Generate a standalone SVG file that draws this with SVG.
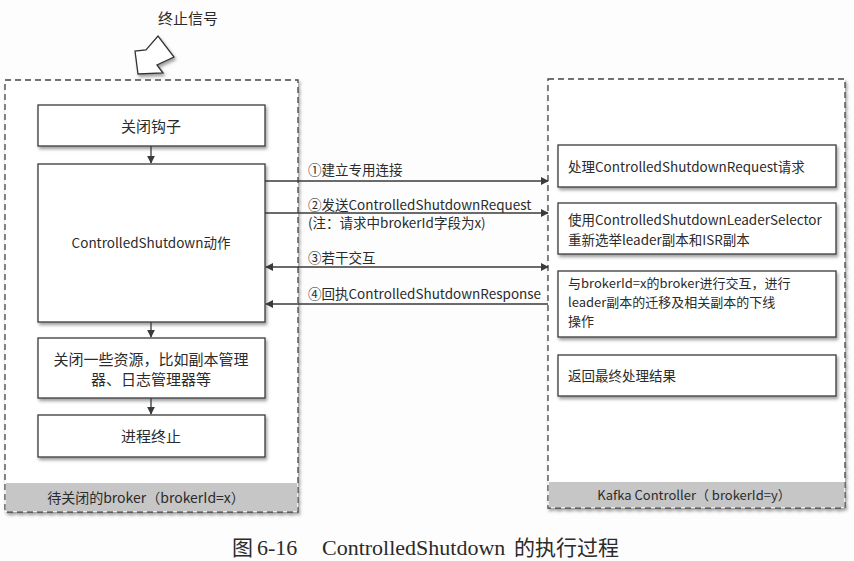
<svg xmlns="http://www.w3.org/2000/svg" width="854" height="561" viewBox="0 0 854 561">
  <defs>
    <style>
      .t { font-family: "Noto Sans CJK SC", "Noto Sans", sans-serif; fill: #2b2b2b; }
      .box { fill: #ffffff; stroke: #3a3a3a; stroke-width: 1.3; filter: url(#shadow); }
      .frame { fill: #ffffff; stroke: #444; stroke-width: 1.3; stroke-dasharray: 6 4; filter: url(#shadow); }
      .band { fill: #c6c6c6; }
      .link { stroke: #3a3a3a; stroke-width: 1.3; fill: none; }
      .cap { font-family: "Liberation Serif", "Noto Sans CJK SC", serif; fill: #2b2b2b; }
    </style>
    <filter id="shadow" x="-10%" y="-10%" width="125%" height="130%">
      <feDropShadow dx="1.5" dy="2.5" stdDeviation="1.5" flood-color="#777" flood-opacity="0.7"/>
    </filter>
    <marker id="arr" viewBox="0 0 10 10" refX="9" refY="5" markerWidth="8" markerHeight="8" markerUnits="userSpaceOnUse" orient="auto-start-reverse">
      <path d="M0,0 L10,5 L0,10 z" fill="#3a3a3a"/>
    </marker>
  </defs>

  <rect width="854" height="561" fill="#fdfdfd"/>

  <!-- shutdown signal -->
  <g id="signal">
    <text class="t" x="188" y="24" font-size="15" text-anchor="middle">终止信号</text>
    <path d="M135,51 L138,74 L163,73 L157,65 L174,57 L158,36 L146,50 Z" fill="#ffffff" stroke="#333" stroke-width="1.3" stroke-linejoin="miter" filter="url(#shadow)"/>
  </g>

  <!-- broker being shut down -->
  <g id="broker-x">
    <rect class="frame" x="5" y="80" width="293" height="432"/>
    <rect class="band" x="5.7" y="483" width="291.6" height="28.3"/>
    <text class="t" x="146" y="503" font-size="14" text-anchor="middle">待关闭的broker（brokerId=x）</text>
  </g>

  <!-- Kafka controller -->
  <g id="controller">
    <rect class="frame" x="548" y="79" width="297" height="429"/>
    <rect class="band" x="548.7" y="482" width="295.6" height="25.3"/>
    <text class="t" x="694" y="500" font-size="13" text-anchor="middle">Kafka Controller（ brokerId=y）</text>
  </g>

  <g id="hook">
    <rect class="box" x="38" y="105" width="227" height="41"/>
    <text class="t" x="151" y="132" font-size="15" text-anchor="middle">关闭钩子</text>
  </g>

  <g id="controlled-shutdown">
    <rect class="box" x="38" y="164" width="227" height="158"/>
    <text class="t" x="151" y="248" font-size="13.5" text-anchor="middle">ControlledShutdown动作</text>
  </g>

  <g id="close-resources">
    <rect class="box" x="38" y="338" width="227" height="60"/>
    <text class="t" x="151" y="365" font-size="15" text-anchor="middle">关闭一些资源，比如副本管理</text>
    <text class="t" x="151" y="385" font-size="15" text-anchor="middle">器、日志管理器等</text>
  </g>

  <g id="terminate">
    <rect class="box" x="38" y="415" width="227" height="42"/>
    <text class="t" x="151" y="442" font-size="15" text-anchor="middle">进程终止</text>
  </g>

  <g id="handle-request">
    <rect class="box" x="558" y="145" width="278" height="42"/>
    <text class="t" x="568" y="172" font-size="13.5">处理ControlledShutdownRequest请求</text>
  </g>

  <g id="reelect">
    <rect class="box" x="558" y="203" width="278" height="51"/>
    <text class="t" x="568" y="225" font-size="13.5">使用ControlledShutdownLeaderSelector</text>
    <text class="t" x="568" y="245" font-size="13.5">重新选举leader副本和ISR副本</text>
  </g>

  <g id="interact">
    <rect class="box" x="558" y="271" width="278" height="66"/>
    <text class="t" x="568" y="288" font-size="13">与brokerId=x的broker进行交互，进行</text>
    <text class="t" x="568" y="307" font-size="13">leader副本的迁移及相关副本的下线</text>
    <text class="t" x="568" y="326" font-size="13">操作</text>
  </g>

  <g id="return-result">
    <rect class="box" x="558" y="355" width="278" height="41"/>
    <text class="t" x="568" y="381" font-size="13.5">返回最终处理结果</text>
  </g>

  <!-- connectors -->
  <g id="connectors">
    <line class="link" x1="151" y1="146" x2="151" y2="163" marker-end="url(#arr)"/>
    <line class="link" x1="151" y1="322" x2="151" y2="337" marker-end="url(#arr)"/>
    <line class="link" x1="151" y1="398" x2="151" y2="414" marker-end="url(#arr)"/>

    <line class="link" x1="265" y1="181" x2="548" y2="181" marker-end="url(#arr)"/>
    <line class="link" x1="265" y1="213" x2="548" y2="213" marker-end="url(#arr)"/>
    <line class="link" x1="266" y1="267" x2="548" y2="267" marker-start="url(#arr)" marker-end="url(#arr)"/>
    <line class="link" x1="548" y1="304" x2="266" y2="304" marker-end="url(#arr)"/>

    <text class="t" x="308" y="175" font-size="13.5">①建立专用连接</text>
    <text class="t" x="308" y="210" font-size="13.5">②发送ControlledShutdownRequest</text>
    <text class="t" x="308" y="228" font-size="13.5">(注：请求中brokerId字段为x)</text>
    <text class="t" x="308" y="263" font-size="13.5">③若干交互</text>
    <text class="t" x="308" y="299" font-size="13.5">④回执ControlledShutdownResponse</text>
  </g>

  <text class="cap" y="555" font-size="21"><tspan x="232">图</tspan><tspan x="257" font-size="22">6-16</tspan><tspan x="322" font-size="22">ControlledShutdown</tspan><tspan x="514">的执行过程</tspan></text>
</svg>
